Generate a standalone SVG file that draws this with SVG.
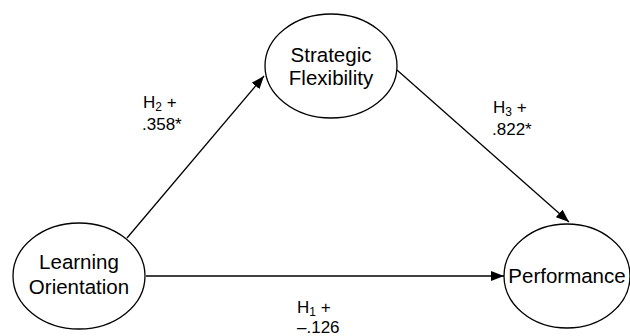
<svg xmlns="http://www.w3.org/2000/svg" width="630" height="336" viewBox="0 0 630 336">
<style>
.node{fill:#fff;stroke:#000;stroke-width:1.3}
.nt{font-family:"Liberation Sans",Arial,sans-serif;font-size:20.5px;fill:#000;text-anchor:middle}
.lb{font-family:"Liberation Sans",Arial,sans-serif;font-size:17px;fill:#000}
.sub{font-size:12px}
.edge{stroke:#000;stroke-width:1.3;fill:none;marker-end:url(#ah)}
</style>
<defs>
<marker id="ah" markerUnits="userSpaceOnUse" markerWidth="14" markerHeight="10" refX="13" refY="5" orient="auto">
<path d="M0,0 L13,5 L0,10 z" fill="#000"/>
</marker>
</defs>
<rect width="630" height="336" fill="#fff"/>
<g id="connectors">
<line class="edge" x1="127" y1="238" x2="264" y2="76"/>
<line class="edge" x1="397" y1="70" x2="569" y2="222"/>
<line class="edge" x1="146" y1="276" x2="504" y2="276"/>
</g>
<g id="learning">
<ellipse class="node" cx="79" cy="276" rx="66" ry="53"/>
<text class="nt" x="79" y="269">Learning</text>
<text class="nt" x="79" y="294">Orientation</text>
</g>
<g id="strategic">
<ellipse class="node" cx="331" cy="66" rx="66" ry="52"/>
<text class="nt" x="331" y="62">Strategic</text>
<text class="nt" x="331" y="85">Flexibility</text>
</g>
<g id="performance">
<ellipse class="node" cx="567" cy="276" rx="63" ry="52"/>
<text class="nt" x="567" y="283">Performance</text>
</g>
<g id="labels">
<text class="lb" x="143" y="108">H<tspan class="sub" dy="3">2</tspan><tspan dy="-3"> +</tspan></text>
<text class="lb" x="142" y="130">.358*</text>
<text class="lb" x="493" y="113">H<tspan class="sub" dy="3">3</tspan><tspan dy="-3"> +</tspan></text>
<text class="lb" x="492" y="135">.822*</text>
<text class="lb" x="297" y="313">H<tspan class="sub" dy="3">1</tspan><tspan dy="-3"> +</tspan></text>
<text class="lb" x="297" y="333">–.126</text>
</g>
</svg>
